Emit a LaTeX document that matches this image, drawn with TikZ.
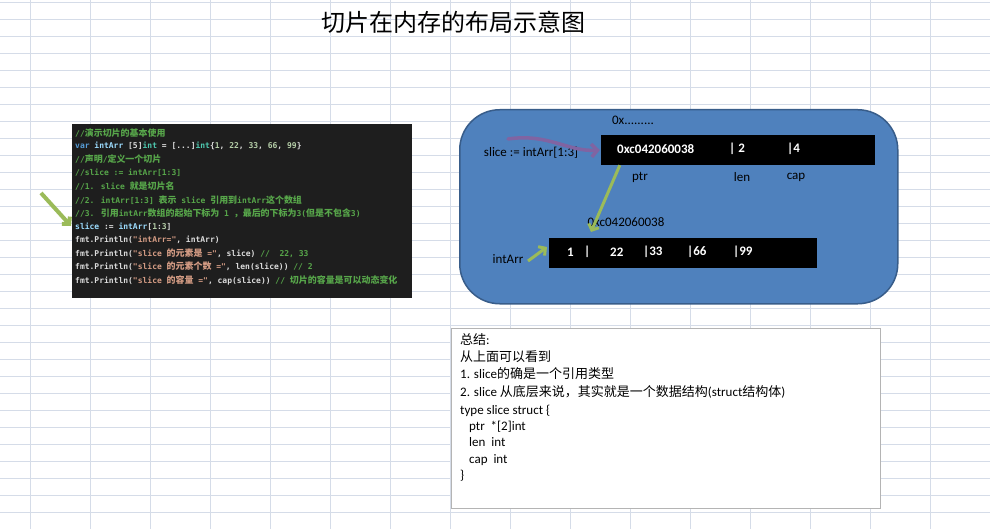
\documentclass[tikz,border=0pt]{standalone}
\usepackage{fontspec}
\setmainfont{Carlito}
\newfontfamily\zhfont{Noto Sans CJK SC}
\newfontfamily\zhcode[Scale=1.12]{Noto Sans CJK SC}
\newfontfamily\codemono{DejaVu Sans Mono}
\usetikzlibrary{arrows.meta}
\definecolor{gridc}{HTML}{D5DCE8}
\definecolor{codebg}{HTML}{1E1E1E}
\definecolor{cmt}{HTML}{57A64A}
\definecolor{kwc}{HTML}{569CD6}
\definecolor{idc}{HTML}{9CDCFE}
\definecolor{tyc}{HTML}{4EC9B0}
\definecolor{nuc}{HTML}{B5CEA8}
\definecolor{stc}{HTML}{D69D85}
\definecolor{plc}{HTML}{DCDCDC}
\definecolor{boxblue}{HTML}{4F81BD}
\definecolor{boxedge}{HTML}{385D8A}
\definecolor{greenarr}{HTML}{9BBB59}
\definecolor{purplearr}{HTML}{8064A2}
\definecolor{sumedge}{HTML}{B4B4B4}
\newcommand\zh[1]{{\zhfont #1}}
\newcommand\zc[1]{{\zhcode #1}}
\newcommand\Ccm[1]{\textcolor{cmt}{#1}}
\newcommand\Ckw[1]{\textcolor{kwc}{#1}}
\newcommand\Cid[1]{\textcolor{idc}{#1}}
\newcommand\Cty[1]{\textcolor{tyc}{#1}}
\newcommand\Cnu[1]{\textcolor{nuc}{#1}}
\newcommand\Cst[1]{\textcolor{stc}{#1}}
\tikzset{
  gridline/.style={draw=gridc, line width=1pt},
  codeline/.style={anchor=west, inner sep=0pt, text=plc, font={\codemono\fontsize{8}{9}\selectfont\bfseries}},
  lbl/.style={inner sep=0pt, font={\fontsize{13}{15}\selectfont}, text=black},
  wlbl/.style={inner sep=0pt, font={\fontsize{13}{15}\selectfont\bfseries}, text=white, anchor=west},
  blk/.style={fill=black, inner sep=0pt},
  sumline/.style={anchor=base west, inner sep=0pt, font={\fontsize{13}{15}\selectfont}, text=black},
  garrow/.style={draw=greenarr, line width=3pt, -{Straight Barb[length=5pt,width=11pt]}},
  parrow/.style={draw=purplearr, line width=3.5pt, line cap=round, -{Straight Barb[length=6pt,width=13pt]}},
}
\begin{document}
\begin{tikzpicture}[x=1pt,y=-1pt]
\useasboundingbox (0,0) rectangle (990,529);
\fill[white] (0,0) rectangle (990,529);
% spreadsheet grid
\foreach \x in {30,90,...,990} \draw[gridline] (\x,0) -- (\x,529);
\foreach \i in {0,...,31} \draw[gridline] (0,{2.5+17*\i}) -- (990,{2.5+17*\i});

% title
\node[inner sep=0pt, font={\zhfont\fontsize{24}{24}\selectfont}] (title) at (453,22) {切片在内存的布局示意图};

% code box
\node[fill=codebg, anchor=north west, minimum width=340pt, minimum height=174pt, inner sep=0pt] (code) at (72,124) {};
\node[codeline] (c1) at (75,132.7) {\Ccm{//\zc{演示切片的基本使用}}};
\node[codeline] (c2) at (75,146.1) {\Ckw{var} \Cid{intArr} [5]\Cty{int} = [...]\Cty{int}\{\Cnu{1}, \Cnu{22}, \Cnu{33}, \Cnu{66}, \Cnu{99}\}};
\node[codeline] (c3) at (75,159.5) {\Ccm{//\zc{声明}/\zc{定义一个切片}}};
\node[codeline] (c4) at (75,172.9) {\Ccm{//slice := intArr[1:3]}};
\node[codeline] (c5) at (75,186.3) {\Ccm{//1. slice \zc{就是切片名}}};
\node[codeline] (c6) at (75,199.7) {\Ccm{//2. intArr[1:3] \zc{表示} slice \zc{引用到}intArr\zc{这个数组}}};
\node[codeline] (c7) at (75,213.1) {\Ccm{//3. \zc{引用}intArr\zc{数组的起始下标为} 1 \zc{，}\zc{最后的下标为}3(\zc{但是不包含}3)}};
\node[codeline] (c8) at (75,226.5) {\Cid{slice} := \Cid{intArr}[\Cnu{1}:\Cnu{3}]};
\node[codeline] (c9) at (75,239.9) {fmt.Println(\Cst{"intArr="}, intArr)};
\node[codeline] (c10) at (75,253.3) {fmt.Println(\Cst{"slice \zc{的元素是} ="}, slice) \Ccm{//\ \ 22, 33}};
\node[codeline] (c11) at (75,266.7) {fmt.Println(\Cst{"slice \zc{的元素个数} ="}, len(slice)) \Ccm{// 2}};
\node[codeline] (c12) at (75,280.1) {fmt.Println(\Cst{"slice \zc{的容量} ="}, cap(slice)) \Ccm{// \zc{切片的容量是可以动态变化}}};

% big green arrow to the slice line
\coordinate (ga1) at (41,193);
\coordinate (ga2) at (71,226);
\draw[garrow, line width=4pt] (ga1) -- (ga2);

% blue rounded panel
\node[fill=boxblue, draw=boxedge, line width=1.5pt, rounded corners=40pt, anchor=north west, minimum width=438pt, minimum height=194pt, inner sep=0pt] (panel) at (459,109) {};

% slice header box
\node[blk, minimum width=274pt, minimum height=30pt] (sbox) at (738,150) {};
\node[wlbl] (sptr) at (617,149) {0xc042060038};
\node[wlbl] (slen) at (729,149) {| 2};
\node[wlbl] (scap) at (787,149) {|4};
\node[lbl] (addr1) at (633,120) {0x.........};
\node[lbl] (slicelbl) at (531,153) {slice := intArr[1:3]};
\node[lbl] (ptrl) at (640,177) {ptr};
\node[lbl] (lenl) at (742,177) {len};
\node[lbl] (capl) at (796,177) {cap};

% array box
\node[blk, minimum width=268pt, minimum height=30pt] (abox) at (683,253) {};
\node[wlbl] (a1) at (567,252) {1};
\node[wlbl] (a1b) at (584,252) {|};
\node[wlbl] (a2) at (610,252) {22};
\node[wlbl] (a3) at (643,252) {|33};
\node[wlbl] (a4) at (687,252) {|66};
\node[wlbl] (a5) at (733,252) {|99};
\node[lbl] (addr2) at (626,222) {0xc042060038};
\node[lbl] (intarrl) at (508,259) {intArr};

% arrows in panel
\coordinate (pa) at (508,139);
\draw[parrow] (pa) .. controls (548,133) and (568,152) .. ([xshift=-1pt]sbox.west);
\coordinate (gs) at ([xshift=19pt]sbox.south west);
\coordinate (ge) at (591,232);
\draw[garrow] (gs) -- (ge);
\coordinate (gi) at (528,261);
\coordinate (gie) at (547,247);
\draw[garrow] (gi) -- (gie);

% summary box
\node[draw=sumedge, fill=white, line width=1pt, anchor=north west, minimum width=429.5pt, minimum height=179.5pt, inner sep=0pt] (sum) at (450.5,328) {};
\node[sumline] (s1) at (460,344.5) {\zh{总结}:};
\node[sumline] (s2) at (460,361.5) {\zh{从上面可以看到}};
\node[sumline] (s3) at (460,378.5) {1. slice\zh{的确是一个引用类型}};
\node[sumline] (s4) at (460,396.5) {2. slice \zh{从底层来说，其实就是一个数据结构}(struct\zh{结构体})};
\node[sumline] (s5) at (460,414.5) {type slice struct \{};
\node[sumline] (s6) at (469,430.5) {ptr\ \ *[2]int};
\node[sumline] (s7) at (469,446.5) {len\ \ int};
\node[sumline] (s8) at (469,463) {cap\ \ int};
\node[sumline] (s9) at (460,479) {\}};
\end{tikzpicture}
\end{document}
